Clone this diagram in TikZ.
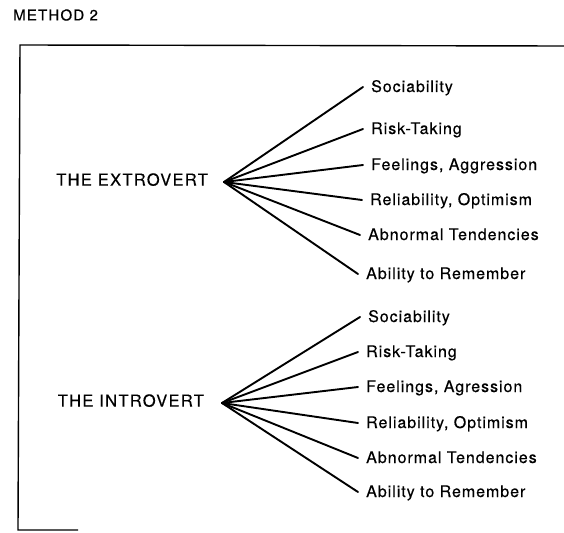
\documentclass[tikz,border=0pt]{standalone}
\usepackage{fontspec}
\setmainfont[LetterSpace=8, FakeBold=0.4]{TeX Gyre Heros}
\newfontfamily\traitfont[LetterSpace=6, FakeBold=0.4]{TeX Gyre Heros}
\begin{document}
\begin{tikzpicture}[x=1pt,y=-1pt,
  frame/.style={line width=1.4pt},
  branch/.style={line width=1.9pt, line cap=round},
  trait/.style={anchor=west, inner xsep=8pt, inner ysep=0pt,
    text height=1em, text depth=0pt, font=\traitfont\fontsize{16}{19}\selectfont},
  group/.style={anchor=east, inner sep=0pt,
    text height=0.72em, text depth=0pt, font=\fontsize{16.5}{19}\selectfont},
]
\useasboundingbox (0,0) rectangle (564,532);

% heading and open frame
\node[anchor=west, inner sep=0pt, font=\fontsize{15}{18}\selectfont] (title) at (13,15) {METHOD 2};
\draw[frame] (78,530) -- (18,530) -- (20,45) -- (564,46);

% extrovert fan
\coordinate (ex) at (224,182);
\node[group] (extro) at (208,182) {THE EXTROVERT};
\foreach [count=\i] \x/\y/\txt in {
    363/87/Sociability,
    363/129/Risk-Taking,
    363/165/{Feelings, Aggression},
    362/200/{Reliability, Optimism},
    360/235/Abnormal Tendencies,
    358/274/Ability to Remember} {
  \node[trait] (e\i) at (\x,\y) {\txt};
  \draw[branch] (ex) -- (e\i.west);
}

% introvert fan
\coordinate (in) at (222,403);
\node[group] (intro) at (204,403) {THE INTROVERT};
\foreach [count=\i] \x/\y/\txt in {
    360/317/Sociability,
    358/352/Risk-Taking,
    358/387/{Feelings, Agression},
    358/423/{Reliability, Optimism},
    358/458/Abnormal Tendencies,
    358/492/Ability to Remember} {
  \node[trait] (n\i) at (\x,\y) {\txt};
  \draw[branch] (in) -- (n\i.west);
}
\end{tikzpicture}
\end{document}
